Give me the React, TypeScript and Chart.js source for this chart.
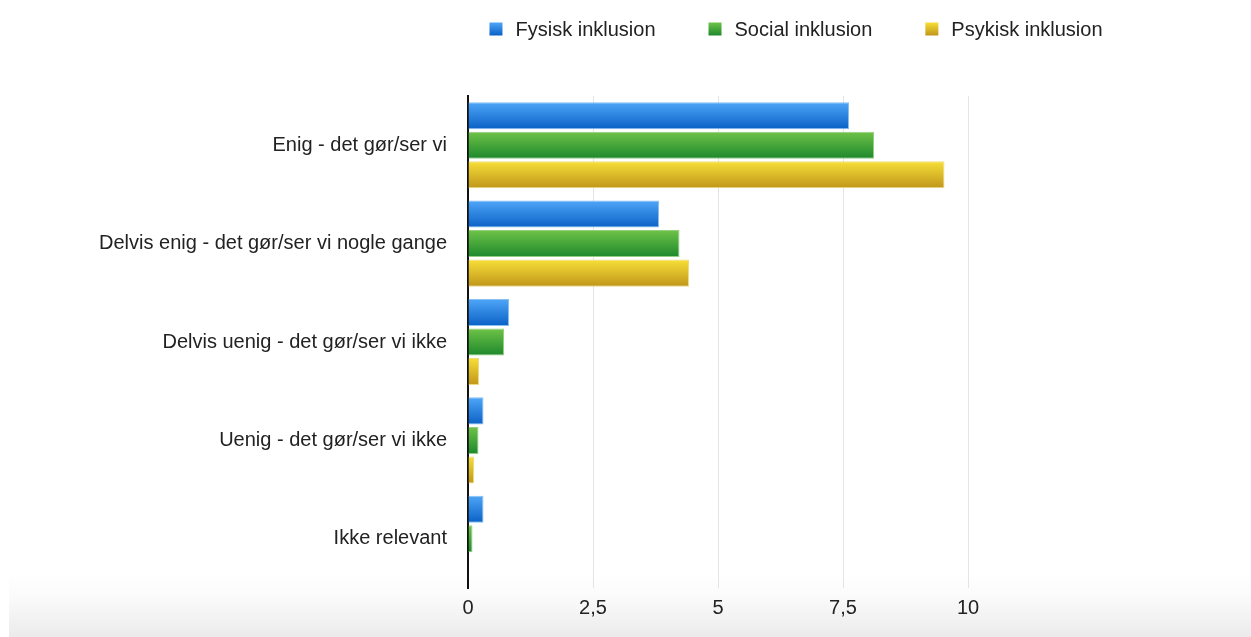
import React, { useEffect, useRef } from "react";
import { Chart, registerables } from "chart.js";

Chart.register(...registerables);

// ---- Data ----
const categories = [
  "Enig - det gør/ser vi",
  "Delvis enig - det gør/ser vi nogle gange",
  "Delvis uenig - det gør/ser vi ikke",
  "Uenig - det gør/ser vi ikke",
  "Ikke relevant",
];
const seriesNames = ["Fysisk inklusion", "Social inklusion", "Psykisk inklusion"];
const fysiskValues = [7.62, 3.82, 0.82, 0.31, 0.31];
const socialValues = [8.12, 4.23, 0.72, 0.21, 0.09];
const psykiskValues = [9.53, 4.42, 0.22, 0.12, 0];
const xTickLabels = ["0", "2,5", "5", "7,5", "10"];

// ---- Styles ----
const FONT = '"Liberation Sans", Arial, Helvetica, sans-serif';
const FONT_SIZE = 20;
const TEXT_COLOR = "#222222";
const CAT_PCT = 0.9;
const BAR_PCT = 0.915;
const gradTop = ["#4fa6f7", "#6fc348", "#f7df38"];
const gradBottom = ["#0a61c6", "#1d882c", "#c0961a"];
const borderCols = ["#86c0f3", "#93d07e", "#eedb80"];

function barGradient(ctx: any, i: number) {
  const chart = ctx.chart;
  const y = chart.scales && chart.scales.y;
  if (!y || ctx.type !== "data") return gradBottom[i];
  const n = chart.data.labels.length;
  const band = (y.bottom - y.top) / n;
  const center = y.getPixelForValue(ctx.dataIndex);
  if (!isFinite(band) || !isFinite(center) || band <= 0) return gradBottom[i];
  const nds = chart.data.datasets.length;
  const slot = (band * CAT_PCT) / nds;
  const thick = slot * BAR_PCT;
  const c = center - (band * CAT_PCT) / 2 + slot * (ctx.datasetIndex + 0.5);
  const g = chart.ctx.createLinearGradient(0, c - thick / 2, 0, c + thick / 2);
  g.addColorStop(0, gradTop[i]);
  g.addColorStop(1, gradBottom[i]);
  return g;
}

const legendPlugin = {
  id: "customLegend",
  afterDraw(chart: any) {
    const ctx = chart.ctx;
    const BOX = 13;
    const BOX_GAP = 13;
    const ITEM_GAP = 53;
    const CENTER_X = 796;
    const Y = 29;
    ctx.save();
    ctx.font = `${FONT_SIZE}px ${FONT}`;
    ctx.textBaseline = "middle";
    ctx.textAlign = "left";
    const names = chart.data.datasets.map((d: any) => d.label);
    const widths = names.map((n: string) => ctx.measureText(n).width);
    const total =
      widths.reduce((a: number, w: number) => a + BOX + BOX_GAP + w, 0) +
      ITEM_GAP * (names.length - 1);
    let x = CENTER_X - total / 2;
    names.forEach((name: string, i: number) => {
      const g = ctx.createLinearGradient(0, Y - BOX / 2, 0, Y + BOX / 2);
      g.addColorStop(0, gradTop[i]);
      g.addColorStop(1, gradBottom[i]);
      ctx.fillStyle = g;
      ctx.fillRect(x, Y - BOX / 2, BOX, BOX);
      ctx.fillStyle = TEXT_COLOR;
      ctx.fillText(name, x + BOX + BOX_GAP, Y + 1);
      x += BOX + BOX_GAP + widths[i] + ITEM_GAP;
    });
    ctx.restore();
  },
};

export default function App() {
  const canvasRef = useRef<HTMLCanvasElement | null>(null);

  useEffect(() => {
    if (!canvasRef.current) return;
    const seriesValues = [fysiskValues, socialValues, psykiskValues];
    const chart = new Chart(canvasRef.current, {
      type: "bar",
      data: {
        labels: categories,
        datasets: seriesValues.map((vals, i) => ({
          label: seriesNames[i],
          data: vals,
          backgroundColor: (ctx: any) => barGradient(ctx, i),
          borderColor: borderCols[i],
          borderWidth: 1,
          categoryPercentage: CAT_PCT,
          barPercentage: BAR_PCT,
        })),
      },
      options: {
        indexAxis: "y",
        animation: false,
        responsive: false,
        layout: { padding: { top: 96, right: 283, bottom: 0, left: 0 } },
        plugins: {
          legend: { display: false },
          tooltip: { enabled: false },
        },
        scales: {
          x: {
            type: "linear",
            min: 0,
            max: 10,
            ticks: {
              stepSize: 2.5,
              padding: 8,
              color: TEXT_COLOR,
              font: { family: FONT, size: FONT_SIZE },
              callback: (_v: any, idx: number) => xTickLabels[idx],
            },
            grid: { color: "#e4e4e4", lineWidth: 1, drawTicks: false },
            border: { display: false },
            afterFit: (scale: any) => {
              scale.height = 49;
            },
          },
          y: {
            type: "category",
            ticks: {
              padding: 21,
              color: TEXT_COLOR,
              font: { family: FONT, size: FONT_SIZE },
            },
            grid: { display: false, drawTicks: false },
            border: { display: true, color: "#111111", width: 2 },
            afterFit: (scale: any) => {
              scale.width = 468;
            },
          },
        },
      },
      plugins: [legendPlugin],
    });
    return () => chart.destroy();
  }, []);

  return (
    <div
      style={{
        position: "fixed",
        left: 0,
        top: 0,
        width: 1251,
        height: 637,
        background: "#ffffff",
        overflow: "hidden",
      }}
    >
      <div
        style={{
          position: "absolute",
          left: 9,
          right: 0,
          top: 0,
          bottom: 0,
          background:
            "linear-gradient(to bottom, #ffffff 0px, #ffffff 572px, #fbfbfb 595px, #ebebeb 637px)",
        }}
      />
      <canvas
        ref={canvasRef}
        width={1251}
        height={637}
        style={{ position: "absolute", left: 0, top: 0 }}
      />
    </div>
  );
}
